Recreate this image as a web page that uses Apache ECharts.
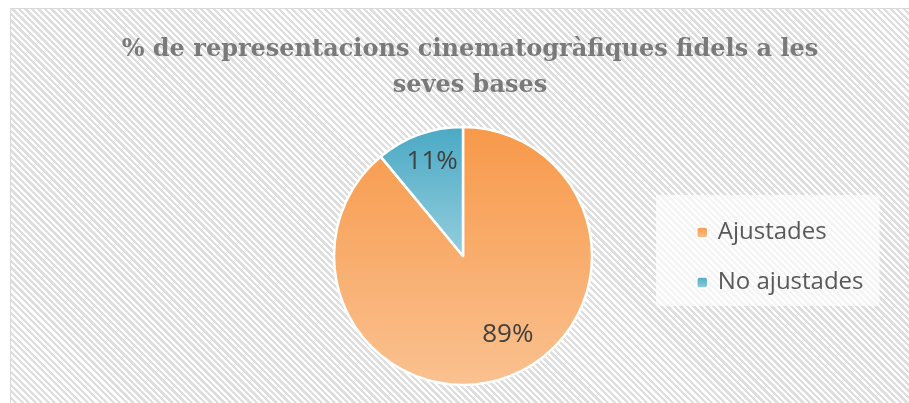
<!DOCTYPE html>
<html>
<head>
<meta charset="utf-8">
<script src="https://cdn.jsdelivr.net/npm/echarts@6/dist/echarts.min.js"></script>
<style>
  html, body { margin: 0; padding: 0; background: #ffffff; }
  #frame {
    position: absolute;
    left: 10px;
    top: 8px;
    width: 910px;
    height: 410px;
    border: 1.5px solid #d9d9d9;
    background: repeating-linear-gradient(45deg, #dedede 0px, #dedede 2.4px, #ffffff 2.4px, #ffffff 4.6px);
  }
  #chart { position: absolute; left: 0; top: 0; width: 909px; height: 403px; }
</style>
</head>
<body>
<div id="frame"></div>
<div id="chart"></div>
<script>
const titleLines = ["% de representacions cinematogràfiques fidels a les", "seves bases"];
const categories = ["Ajustades", "No ajustades"];
const values = [89, 11];

const sliceColors = [
  ["#f7994a", "#fac190"],
  ["#4aa9c5", "#94cedd"],
];
const labelOffsets = [
  [22, 15],
  [-8, -31],
];

const chart = echarts.init(document.getElementById("chart"), null, { renderer: "canvas" });

const pieData = categories.map((name, i) => ({
  name,
  value: values[i],
  itemStyle: {
    color: new echarts.graphic.LinearGradient(0, 0, 0, 1, [
      { offset: 0, color: sliceColors[i][0] },
      { offset: 1, color: sliceColors[i][1] },
    ]),
  },
  label: { offset: labelOffsets[i] },
}));

chart.setOption({
  backgroundColor: "transparent",
  animation: false,
  title: {
    text: titleLines.join("\n"),
    left: 465,
    top: 27,
    textAlign: "center",
    textStyle: {
      fontFamily: "DejaVu Serif",
      fontWeight: "bold",
      fontSize: 24,
      lineHeight: 36,
      color: "#7a7a7a",
    },
  },
  legend: {
    orient: "vertical",
    left: 656,
    top: 195,
    padding: [21, 16, 7, 40],
    itemGap: 17,
    itemWidth: 11,
    itemHeight: 11,
    itemStyle: { borderColor: "#ffffff", borderWidth: 1.5 },
    backgroundColor: "rgba(255,255,255,0.65)",
    textStyle: {
      fontFamily: "Open Sans",
      fontSize: 24,
      lineHeight: 33,
      color: "#595959",
      padding: [0, 0, 0, 5],
    },
    data: categories,
  },
  series: [
    {
      type: "pie",
      center: [463, 256],
      radius: 129,
      startAngle: 90,
      clockwise: true,
      itemStyle: { borderColor: "#ffffff", borderWidth: 2.5 },
      label: {
        show: true,
        position: "inside",
        formatter: "{d}%",
        fontFamily: "Open Sans",
        fontSize: 26,
        color: "#404040",
      },
      labelLine: { show: false },
      emphasis: { disabled: true },
      data: pieData,
    },
  ],
});
</script>
</body>
</html>
